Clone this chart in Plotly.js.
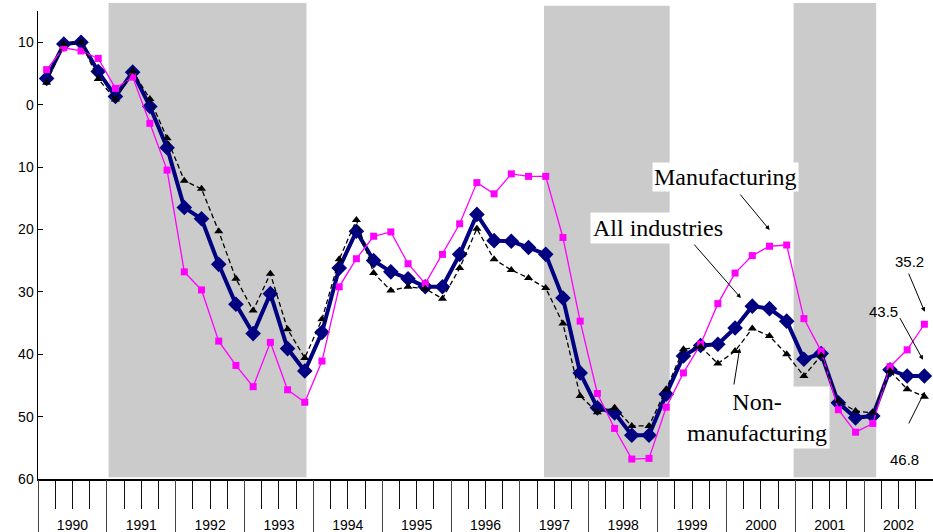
<!DOCTYPE html>
<html><head><meta charset="utf-8">
<script src="https://cdn.plot.ly/plotly-3.0.1.min.js"></script>
<style>html,body{margin:0;padding:0;background:#fff}#chart{width:933px;height:532px}</style>
</head><body><div id="chart"></div>
<script>
// ---- data ----
const years = ['1990','1991','1992','1993','1994','1995','1996','1997','1998','1999','2000','2001','2002'];
const allIndustries = [4.2,9.7,10.0,5.3, 1.3,5.2,-0.3,-6.9, -16.5,-18.3,-25.6,-32.0, -36.7,-30.3,-39.1,-42.7,
  -36.5,-26.2,-20.3,-25.0, -26.8,-27.9,-29.2,-29.2, -24.0,-17.6,-21.8,-21.9, -22.9,-24.0,-31.0,-43.0,
  -48.6,-49.4,-53.0,-53.0, -46.4,-40.3,-38.6,-38.4, -35.8,-32.3,-32.7,-34.7, -40.8,-39.9,-47.8,-50.2,
  -49.9,-42.5,-43.5,-43.5];
const manufacturing = [5.6,9.1,8.6,7.4, 2.6,4.4,-3.0,-10.5, -26.8,-29.7,-37.9,-41.8, -45.2,-38.1,-45.7,-47.7,
  -41.1,-29.2,-24.7,-21.1, -20.4,-25.5,-28.7,-24.0, -19.1,-12.5,-14.3,-11.1, -11.5,-11.5,-21.3,-34.7,
  -46.3,-51.9,-56.8,-56.7, -48.5,-43.0,-38.4,-31.9, -27.0,-24.2,-22.7,-22.5, -34.3,-39.5,-48.9,-52.5,
  -51.1,-42.0,-39.3,-35.2];
const nonManufacturing = [3.5,9.7,10.0,4.1, 0.8,5.4,0.9,-5.4, -12.2,-13.5,-20.3,-27.9, -33.0,-27.1,-36.0,-40.6,
  -34.4,-24.8,-18.5,-27.0, -29.8,-29.2,-29.5,-31.1, -26.2,-19.9,-24.8,-26.5, -27.8,-29.4,-35.1,-46.7,
  -49.3,-48.6,-51.5,-51.5, -45.6,-39.2,-38.8,-41.5, -39.5,-35.9,-37.1,-40.0, -43.5,-40.2,-47.5,-49.1,
  -49.4,-42.7,-45.6,-46.8];
const yTickVals = [10,0,-10,-20,-30,-40,-50,-60];
const yTickText = ['10','0','10','20','30','40','50','60'];
// recession (shaded) periods, in quarter index units
const recStart = [3.6, 28.9, 43.4];
const recEnd   = [15.1, 36.2, 48.2];
const recTop   = [1.017, 1.011, 1.017];

// ---- derived ----
const nQ = years.length * 4;
const xq = allIndustries.map((_, i) => i);
const quarterBounds = Array.from({length: nQ + 1}, (_, i) => i - 0.5);
const yearBounds = Array.from({length: years.length + 1}, (_, i) => i * 4 - 0.5);
const yearCenters = years.map((_, i) => i * 4 + 1.5);

const traces = [
  {x: xq, y: allIndustries, type: 'scatter', mode: 'lines+markers', name: 'All industries',
   line: {color: '#000080', width: 4}, marker: {symbol: 'diamond', size: 12, color: '#000080', line: {width: 0}}},
  {x: xq, y: manufacturing, type: 'scatter', mode: 'lines+markers', name: 'Manufacturing',
   line: {color: '#ff00ff', width: 1.3}, marker: {symbol: 'square', size: 7, color: '#ff00ff'}},
  {x: xq, y: nonManufacturing, type: 'scatter', mode: 'lines+markers', name: 'Non-manufacturing',
   line: {color: '#000000', width: 1.3, dash: '5px,3px'}, marker: {symbol: 'triangle-up', size: 8, color: '#000000'}}
];

const shapes = recStart.map((s, i) => ({
  type: 'rect', layer: 'below', xref: 'x', yref: 'paper',
  x0: s, x1: recEnd[i], y0: 0.004, y1: recTop[i],
  fillcolor: '#cbcbcb', line: {width: 0}
}));

const serif = {family: 'Liberation Serif, Times New Roman, serif', size: 24, color: '#000'};
const sans = {family: 'Liberation Sans, Arial, sans-serif', size: 15, color: '#000'};
const labels = [
  {text: 'Manufacturing', x: 39.45, y: -11.6, font: serif, bgcolor: '#fff', borderpad: 1},
  {text: 'All industries', x: 35.54, y: -19.8, font: serif, bgcolor: '#fff', borderpad: 2},
  {text: 'Non-<br>manufacturing', x: 41.27, y: -50.1, font: serif, bgcolor: '#fff', borderpad: 2},
  {text: '35.2', x: 50.16, y: -25.1, font: sans},
  {text: '43.5', x: 48.61, y: -33.2, font: sans},
  {text: '46.8', x: 49.87, y: -56.8, font: sans}
].map(a => Object.assign({xref: 'x', yref: 'y', showarrow: false}, a));

const arrows = [
  {x: 42.01, y: -20.1, ax: -30.7, ay: -37},
  {x: 40.34, y: -31.0, ax: -48, ay: -55},
  {x: 40.27, y: -39.05, ax: -6, ay: 37.7},
  {x: 51.02, y: -33.2, ax: -16.7, ay: -39.7},
  {x: 50.92, y: -40.9, ax: -24, ay: -43.3},
  {x: 51.02, y: -46.0, ax: -16.7, ay: 33.3}
].map(a => Object.assign({xref: 'x', yref: 'y', text: '', showarrow: true,
  arrowhead: 2, arrowsize: 0.9, arrowwidth: 1, arrowcolor: '#000'}, a));

const layout = {
  width: 933, height: 532,
  margin: {l: 38, r: 0, t: 11, b: 53},
  paper_bgcolor: '#fff', plot_bgcolor: 'rgba(0,0,0,0)',
  showlegend: false,
  font: {family: 'Liberation Sans, Arial, sans-serif', size: 14, color: '#000'},
  xaxis: {range: [-0.5, nQ - 0.5], showline: true, linecolor: '#000', linewidth: 1.5,
    tickmode: 'array', tickvals: quarterBounds, ticks: 'outside', ticklen: 28, tickcolor: '#111', tickwidth: 1,
    showticklabels: false, showgrid: false, zeroline: false},
  xaxis2: {range: [-0.5, nQ - 0.5], overlaying: 'x', anchor: 'y', side: 'bottom',
    tickmode: 'array', tickvals: yearBounds, ticks: 'outside', ticklen: 53, tickcolor: '#444', tickwidth: 1,
    showticklabels: false, showgrid: false, zeroline: false, showline: false},
  xaxis3: {range: [-0.5, nQ - 0.5], overlaying: 'x', anchor: 'y', side: 'bottom',
    tickmode: 'array', tickvals: yearCenters, ticktext: years, ticks: '', ticklabelstandoff: 36,
    tickfont: {family: 'Liberation Sans, Arial, sans-serif', size: 14, color: '#000'},
    showgrid: false, zeroline: false, showline: false},
  yaxis: {range: [-60, 15], showline: true, linecolor: '#000', linewidth: 1.5,
    tickmode: 'array', tickvals: yTickVals, ticktext: yTickText, ticks: 'inside', ticklen: 5, tickcolor: '#000',
    tickfont: {family: 'Liberation Sans, Arial, sans-serif', size: 14, color: '#000'},
    showgrid: false, zeroline: false},
  shapes: shapes,
  annotations: labels.concat(arrows)
};

// dummy traces to activate overlay axes
traces.push({x: [0], y: [null], xaxis: 'x2', yaxis: 'y', showlegend: false, hoverinfo: 'skip'});
traces.push({x: [0], y: [null], xaxis: 'x3', yaxis: 'y', showlegend: false, hoverinfo: 'skip'});

Plotly.newPlot('chart', traces, layout, {displayModeBar: false, staticPlot: true});
</script></body></html>
